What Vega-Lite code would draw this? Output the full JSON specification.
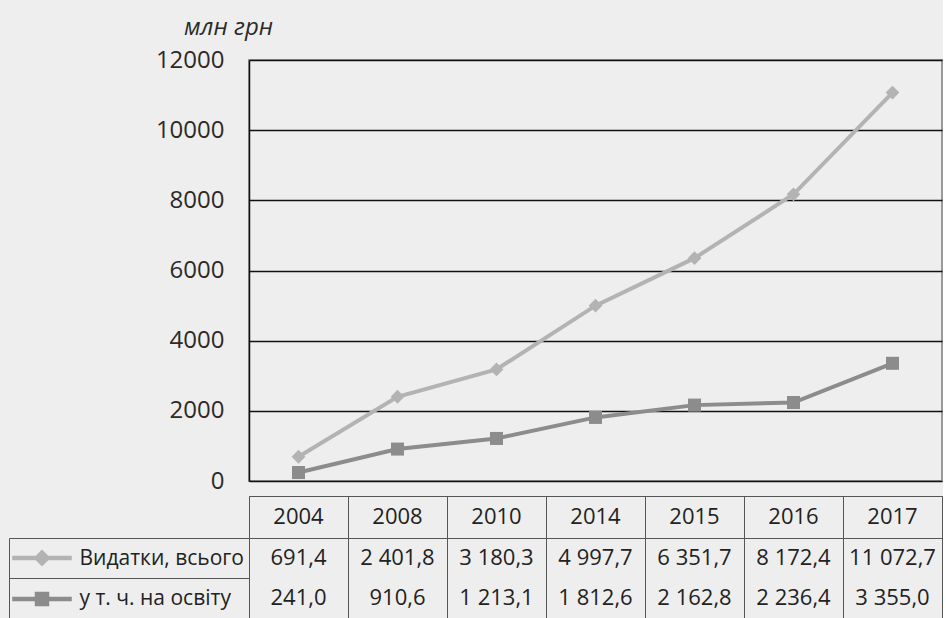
{
  "$schema": "https://vega.github.io/schema/vega-lite/v6.json",
  "padding": {"left": 8, "top": 14, "right": 0, "bottom": 0},
  "background": "#eeeeee",
  "config": {
    "font": "Open Sans",
    "locale": {"number": {"decimal": ",", "thousands": " ", "grouping": [3], "currency": ["", ""]}}
  },
  "data": {"values": [
    {"year": 2004, "series": "Видатки, всього", "value": 691.4},
    {"year": 2008, "series": "Видатки, всього", "value": 2401.8},
    {"year": 2010, "series": "Видатки, всього", "value": 3180.3},
    {"year": 2014, "series": "Видатки, всього", "value": 4997.7},
    {"year": 2015, "series": "Видатки, всього", "value": 6351.7},
    {"year": 2016, "series": "Видатки, всього", "value": 8172.4},
    {"year": 2017, "series": "Видатки, всього", "value": 11072.7},
    {"year": 2004, "series": "у т. ч. на освіту", "value": 241.0},
    {"year": 2008, "series": "у т. ч. на освіту", "value": 910.6},
    {"year": 2010, "series": "у т. ч. на освіту", "value": 1213.1},
    {"year": 2014, "series": "у т. ч. на освіту", "value": 1812.6},
    {"year": 2015, "series": "у т. ч. на освіту", "value": 2162.8},
    {"year": 2016, "series": "у т. ч. на освіту", "value": 2236.4},
    {"year": 2017, "series": "у т. ч. на освіту", "value": 3355.0}
  ]},
  "bounds": "flush",
  "spacing": 15,
  "vconcat": [
    {
      "width": 693,
      "height": 421,
      "view": {"stroke": "#9a9a9a", "strokeWidth": 2},
      "encoding": {
        "x": {"field": "year", "type": "ordinal", "axis": null},
        "y": {"field": "value", "type": "quantitative", "scale": {"domain": [0, 12000]},
          "axis": {"values": [0, 2000, 4000, 6000, 8000, 10000, 12000], "format": "d", "ticks": false,
            "labelPadding": 25, "labelFontSize": 24, "labelColor": "#2a2a2a",
            "domainColor": "#111", "domainWidth": 1.5, "grid": true, "gridColor": "#111", "gridWidth": 1.5, "gridOpacity": 1,
            "title": "млн грн", "titleAngle": 0, "titleX": -21, "titleY": -33, "titleAlign": "center", "titleBaseline": "middle",
            "titleFontStyle": "italic", "titleFontWeight": "normal", "titleFontSize": 24, "titleColor": "#2a2a2a"}},
        "color": {"field": "series", "type": "nominal",
          "scale": {"domain": ["Видатки, всього", "у т. ч. на освіту"], "range": ["#b3b3b3", "#8c8c8c"]}}
      },
      "layer": [
        {
          "transform": [{"filter": "false"}],
          "mark": {"type": "point", "filled": true, "opacity": 1},
          "encoding": {
            "color": {"field": "series", "type": "nominal",
              "legend": {"orient": "none", "legendX": -218, "legendY": 487, "title": null, "direction": "vertical",
                "padding": 0, "symbolSize": 400, "rowPadding": 19, "labelExpr": "''", "symbolOpacity": 1}},
            "shape": {"field": "series", "type": "nominal",
              "scale": {"domain": ["Видатки, всього", "у т. ч. на освіту"],
                "range": ["M-2.9,-0.15H2.9V0.15H-2.9ZM0,-0.75L0.75,0L0,0.75L-0.75,0Z", "M-2.9,-0.15H2.9V0.15H-2.9ZM-0.65,-0.65H0.65V0.65H-0.65Z"]},
              "legend": {"orient": "none", "legendX": -218, "legendY": 487, "title": null, "direction": "vertical",
                "padding": 0, "symbolSize": 400, "rowPadding": 19, "labelExpr": "''", "symbolOpacity": 1}}
          }
        },
        {
          "mark": {"type": "line", "strokeWidth": 4},
          "encoding": {"color": {"field": "series", "type": "nominal", "legend": null}}
        },
        {
          "transform": [{"filter": "datum.series === 'Видатки, всього'"}],
          "mark": {"type": "point", "filled": true, "size": 190, "opacity": 1, "shape": "diamond"},
          "encoding": {"color": {"field": "series", "type": "nominal", "legend": null}}
        },
        {
          "transform": [{"filter": "datum.series === 'у т. ч. на освіту'"}],
          "mark": {"type": "point", "filled": true, "size": 170, "opacity": 1, "shape": "square"},
          "encoding": {"color": {"field": "series", "type": "nominal", "legend": null}}
        }
      ]
    },
    {
      "bounds": "flush",
      "spacing": 0,
      "vconcat": [
        {
          "width": 693,
          "height": 42,
          "view": {"stroke": "#555"},
          "transform": [{"filter": "datum.series === 'Видатки, всього'"}],
          "mark": {"type": "text", "fontSize": 22, "color": "#222"},
          "encoding": {
            "x": {"field": "year", "type": "ordinal", "scale": {"type": "band", "paddingInner": 0, "paddingOuter": 0},
              "axis": {"orient": "bottom", "labels": false, "ticks": false, "domain": false, "grid": true, "tickBand": "extent", "gridColor": "#555", "gridOpacity": 1, "title": null}},
            "text": {"field": "year", "type": "ordinal"}
          }
        },
        {
          "width": 693,
          "height": 80,
          "view": {"stroke": "#555"},
          "mark": {"type": "text", "fontSize": 22, "color": "#222"},
          "encoding": {
            "x": {"field": "year", "type": "ordinal", "scale": {"type": "band", "paddingInner": 0, "paddingOuter": 0},
              "axis": {"orient": "bottom", "labels": false, "ticks": false, "domain": false, "grid": true, "tickBand": "extent", "gridColor": "#555", "gridOpacity": 1, "title": null}},
            "y": {"field": "series", "type": "nominal", "sort": ["Видатки, всього", "у т. ч. на освіту"],
              "scale": {"type": "band", "paddingInner": 0, "paddingOuter": 0},
              "axis": {"orient": "left", "offset": 240, "tickSize": -240, "tickBand": "extent", "labelPadding": 170, "labelAlign": "left",
                "labelFontSize": 21, "labelColor": "#222", "labelLimit": 230, "domainColor": "#555", "tickColor": "#555", "title": null}},
            "text": {"field": "value", "type": "quantitative", "format": ",.1f"}
          }
        }
      ]
    }
  ]
}
